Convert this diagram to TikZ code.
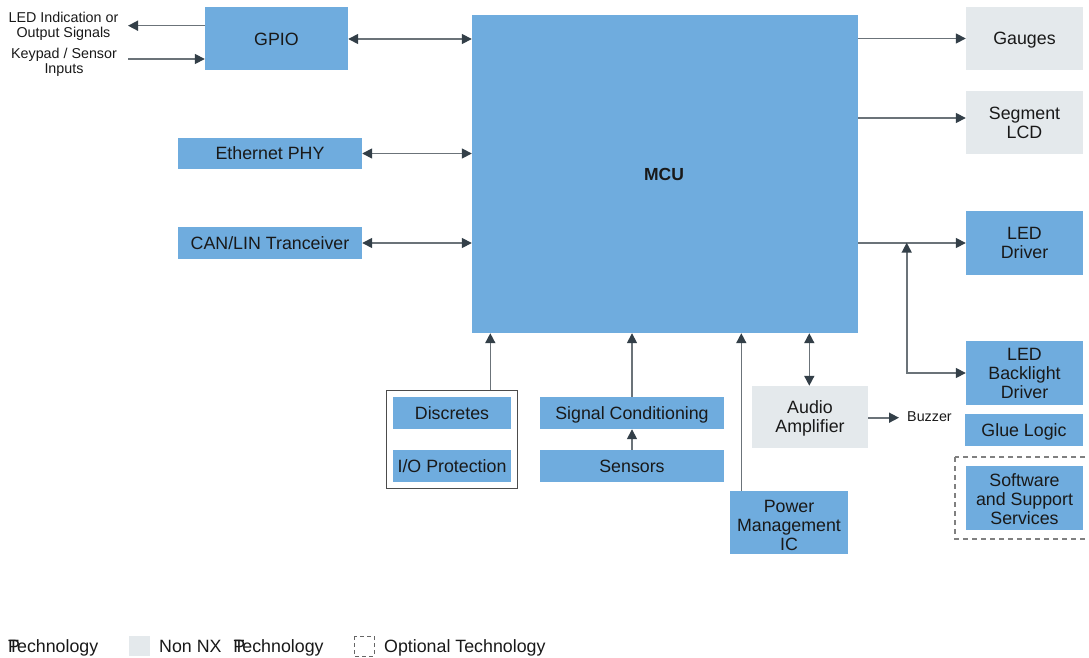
\documentclass[tikz,border=0pt]{standalone}
\usepackage{fontspec}
\setmainfont{Liberation Sans}
\usetikzlibrary{arrows.meta, positioning, calc}

\definecolor{nxpblue}{HTML}{6FACDE}
\definecolor{nonnxp}{HTML}{E4E9EC}
\definecolor{wire}{HTML}{6B7379}
\definecolor{tipdark}{HTML}{333F48}

\begin{document}
\begin{tikzpicture}[x=1pt, y=-1pt,
    every node/.style={font=\fontsize{17.8}{19}\selectfont, text=black!90, align=center, inner sep=0pt, text depth=0pt},
    nxpbox/.style={fill=nxpblue},
    otherbox/.style={fill=nonnxp},
    small/.style={font=\fontsize{14.3}{15}\selectfont},
    link/.style={draw=wire, line width=1.6pt, -{Triangle[length=10pt, width=10pt, color=tipdark]}},
    dlink/.style={draw=wire, line width=1.6pt, {Triangle[length=10pt, width=10pt, color=tipdark]}-{Triangle[length=10pt, width=10pt, color=tipdark]}}]
    \useasboundingbox (0,0) rectangle (1089,658);

    % MCU and GPIO
    \node[nxpbox, minimum width=386pt, minimum height=318pt] (mcu) at (665,174) {};
    \node[font=\fontsize{17.5}{19}\selectfont\bfseries] (mculabel) at (664,174) {MCU};
    \node[nxpbox, minimum width=143pt, minimum height=63pt] (gpio) at (276.5,39) {GPIO};
    \node[small] (ledtxt) at (63.5,24.5) {LED Indication or\\Output Signals};
    \node[small] (keytxt) at (64,61) {Keypad / Sensor\\Inputs};
    \coordinate (ledout) at (128,25.7);
    \coordinate (keyin) at (128,59);

    % Left side interfaces
    \node[nxpbox, minimum width=184pt, minimum height=31pt] (eth) at (270,153.5) {Ethernet PHY};
    \node[nxpbox, minimum width=184pt, minimum height=32pt] (can) at (270,243) {CAN/LIN Tranceiver};

    % Right side outputs
    \node[otherbox, minimum width=117pt, minimum height=63pt] (gauges) at (1024.5,38.5) {Gauges};
    \node[otherbox, minimum width=117pt, minimum height=63pt] (seglcd) at (1024.5,122.5) {Segment\\LCD};
    \node[nxpbox, minimum width=117pt, minimum height=64pt] (leddrv) at (1024.5,243) {LED\\Driver};
    \node[nxpbox, minimum width=117pt, minimum height=64pt] (ledbl) at (1024.5,373) {LED\\Backlight\\Driver};
    \node[nxpbox, minimum width=118pt, minimum height=32pt] (glue) at (1024,430) {Glue Logic};
    \draw[draw=gray, line width=1.2pt, dashed, dash pattern=on 5pt off 4pt] (955,457) rectangle (1091,539);
    \node[nxpbox, minimum width=117pt, minimum height=64pt, text height=53pt] (sw) at (1024.5,498) {Software\\and Support\\Services};
    \coordinate (jct) at (906.7,242.7);

    % Bottom row
    \node[draw=black!70, line width=1.2pt, minimum width=131pt, minimum height=97.5pt] (grp) at (452,439.5) {};
    \node[nxpbox, minimum width=118pt, minimum height=32pt] (disc) at (452,413) {Discretes};
    \node[nxpbox, minimum width=118pt, minimum height=32pt] (iop) at (452,466) {I/O Protection};
    \node[nxpbox, minimum width=184pt, minimum height=32pt] (sigc) at (632,413) {Signal Conditioning};
    \node[nxpbox, minimum width=184pt, minimum height=32pt] (sens) at (632,466) {Sensors};
    \node[otherbox, minimum width=116pt, minimum height=62pt] (audio) at (810,417) {Audio\\Amplifier};
    \node[nxpbox, minimum width=118pt, minimum height=63pt, text height=56pt] (pmic) at (789,522.5) {Power\\Management\\IC};
    \coordinate (buzz) at (899,417.7);
    \node[small, anchor=west] (buzztxt) at (907,417) {Buzzer};

    % Connectors
    \draw[link] (gpio.west |- ledout) -- (ledout);
    \draw[link] (keyin) -- (gpio.west |- keyin);
    \draw[dlink] (gpio.east) -- (gpio.east -| mcu.west);
    \draw[dlink] (eth.east) -- (eth.east -| mcu.west);
    \draw[dlink] (can.east) -- (can.east -| mcu.west);
    \draw[link] (gauges.west -| mcu.east) -- (gauges.west);
    \draw[link] ([yshift=4.5pt]seglcd.west -| mcu.east) -- ([yshift=4.5pt]seglcd.west);
    \draw[link] (leddrv.west -| mcu.east) -- (leddrv.west);
    \draw[dlink] (jct) |- (ledbl.west);
    \draw[link] (grp.north -| 490.3,0) -- (mcu.south -| 490.3,0);
    \draw[link] (sigc.north) -- (sigc.north |- mcu.south);
    \draw[link] (sens.north) -- (sigc.south);
    \draw[link] (pmic.north -| 741.3,0) -- (mcu.south -| 741.3,0);
    \draw[dlink] (audio.north -| 809.3,0) -- (mcu.south -| 809.3,0);
    \draw[link] (audio.east |- buzz) -- (buzz);

    % Legend
    \node[anchor=west] (legnxp) at (8,646) {\rlap{P}Technology};
    \node[otherbox, minimum width=21pt, minimum height=20pt] (swnon) at (139.5,646) {};
    \node[anchor=west] (legnon) at (159,646) {Non NX\hspace{12pt}\rlap{P}Technology};
    \draw[draw=black!60, line width=1pt, dashed, dash pattern=on 4pt off 3pt] (354,636) rectangle (374,656);
    \node[anchor=west] (legopt) at (384,646) {Optional Technology};
\end{tikzpicture}
\end{document}
